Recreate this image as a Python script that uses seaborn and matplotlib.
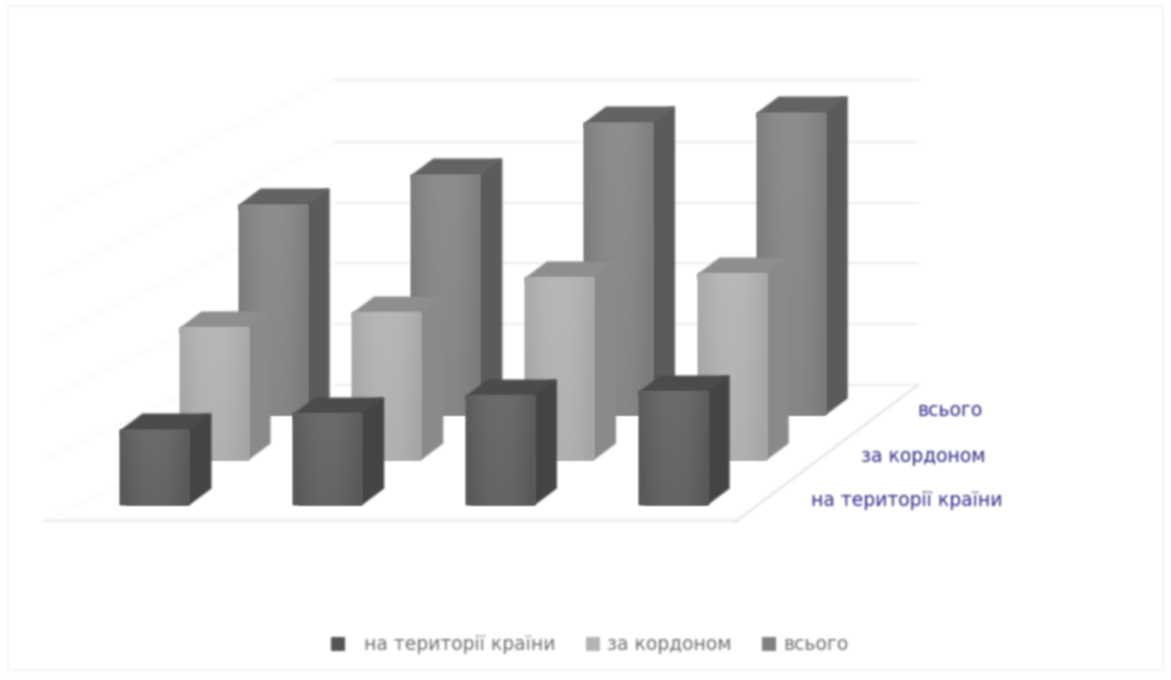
import numpy as np
import pandas as pd
import matplotlib
matplotlib.use("Agg")
import matplotlib.pyplot as plt
from matplotlib.patches import Polygon, Patch, Rectangle
from matplotlib.transforms import Affine2D
from matplotlib.colors import to_rgb
import seaborn as sns

# ---- data (no category or value labels are shown in the source; values read in chart units)
categories = ["1", "2", "3", "4"]
series_names = ["на території країни", "за кордоном", "всього"]
domestic = [75, 91, 109, 113]
abroad = [132, 147, 182, 186]
total = [210, 240, 292, 302]
grid_levels = [0, 61, 122, 182, 243, 305]

W, H = 1171, 680
sns.set_theme(style="white")
plt.rcParams["font.family"] = ["DejaVu Sans"]

fig = plt.figure(figsize=(W / 100, H / 100), dpi=100, facecolor="white")
ax = fig.add_axes([0, 0, 1, 1])
ax.set_facecolor("none")
px = Affine2D().scale(1 / W, -1 / H).translate(0, 1) + fig.transFigure


def _blur(a, k):
    a = np.apply_along_axis(lambda v: np.convolve(v, k, mode="same"), 0, a)
    return np.apply_along_axis(lambda v: np.convolve(v, k, mode="same"), 1, a)


def soften(img, dpi):
    pad = 4
    k = np.array([1, 3, 4, 3, 1], float)
    k /= k.sum()
    img = np.pad(img, ((pad, pad), (pad, pad), (0, 0)))
    alpha = _blur(img[..., 3], k)
    out = np.zeros_like(img)
    for c in range(3):
        out[..., c] = _blur(img[..., c] * img[..., 3], k) / np.maximum(alpha, 1e-4)
    out[..., 3] = alpha
    return np.clip(out, 0, 1), -pad, -pad


# pixel scale of the chart
unit_x = 172.7
x_left, y_base = 155, 505
ax.set_xlim(-x_left / unit_x, (W - x_left) / unit_x)
ylim = (-(H - y_base), y_base)

# ---- walls and floor
back_left, back_right, back_floor = 335, 918, 385
wall_left = 45
front_floor = 520
front_right = 735
for lev in grid_levels:
    yy = back_floor - lev
    ax.plot([back_left, back_right], [yy, yy], transform=px, color="#ededed",
            lw=1.4, zorder=0, agg_filter=soften)
    ax.plot([wall_left, back_left], [yy + front_floor - back_floor, yy], transform=px,
            color="#fbfbfb", lw=1.4, zorder=0, agg_filter=soften)
ax.plot([wall_left, front_right], [front_floor, front_floor], transform=px,
        color="#eeeeee", lw=2, zorder=0, agg_filter=soften)
ax.plot([front_right, back_right], [front_floor + 2, back_floor], transform=px,
        color="#e2e2e2", lw=1.4, zorder=0, agg_filter=soften)
ax.add_patch(Rectangle((8, 6), 1155, 664, transform=px, fill=False, ec="#f3f3f3",
                       lw=1.2, zorder=0, agg_filter=soften))

# ---- bars: seaborn builds the front faces, each series then moves back by its depth
values = [domestic, abroad, total]
shift_x = [0.0, 0.342, 0.684]
shift_y = [0, 45, 90]
face_mid = ["#6c6c6c", "#b8b8b8", "#8e8e8e"]
face_edge = ["#595959", "#a6a6a6", "#7b7b7b"]
side_col = ["#454545", "#8b8b8b", "#5b5b5b"]
top_col = ["#4b4b4b", "#8e8e8e", "#646464"]
depth_x, depth_y = 22 / unit_x, 16.5
bar_width = 69 / unit_x

for i in [2, 1, 0]:
    z = 3 - i + 1
    df = pd.DataFrame({"category": categories, "value": values[i]})
    n_before = len(ax.containers)
    sns.barplot(data=df, x="category", y="value", color=face_mid[i], saturation=1,
                width=bar_width, linewidth=0, ax=ax, zorder=z + 0.3, errorbar=None)
    for bar in ax.containers[n_before]:
        bar.set_x(bar.get_x() + shift_x[i])
        bar.set_y(shift_y[i])
        bar.set_agg_filter(soften)
        x0, x1 = bar.get_x(), bar.get_x() + bar.get_width()
        y0, y1 = bar.get_y(), bar.get_y() + bar.get_height()
        ax.add_patch(Polygon([(x0 + 0.03, y0), (x1, y0), (x1 + depth_x, y0 + depth_y),
                              (x1 + depth_x, y1 + depth_y), (x0 + 0.03, y1)],
                             fc=side_col[i], ec="none", zorder=z + 0.1, agg_filter=soften))
        ax.add_patch(Polygon([(x0, y1 - 5), (x0, y1), (x0 + depth_x, y1 + depth_y),
                              (x1 + depth_x, y1 + depth_y), (x1, y1), (x1, y1 - 5)],
                             fc=top_col[i], ec="none", zorder=z + 0.2, agg_filter=soften))
        t = np.abs(np.linspace(-1, 1, 32))[None, :, None]
        v = np.linspace(1, 0, 32)[:, None, None] * 0.35 + 0.65
        mix = np.clip(t ** 2 * 0.8 + (1 - v), 0, 1)
        grad = np.array(to_rgb(face_mid[i]))[None, None, :] * (1 - mix) + \
            np.array(to_rgb(face_edge[i]))[None, None, :] * mix
        ax.imshow(grad, extent=(x0, x1, y0, y1), aspect="auto", zorder=z + 0.35,
                  interpolation="bilinear", agg_filter=soften)

ax.set_xlim(-x_left / unit_x, (W - x_left) / unit_x)
ax.set_ylim(*ylim)
ax.set_axis_off()

# ---- depth-axis labels
label_pos = [(907, 501), (923, 456), (950, 410)]
for name, (lx, ly) in zip(series_names, label_pos):
    ax.text(lx, ly, name, transform=px, ha="center", va="center", fontsize=13.5,
            color="#2e2a86", zorder=10, agg_filter=soften)

# ---- legend
handles = [Patch(fc=c, ec="none") for c in ["#555555", "#b4b4b4", "#808080"]]
labels = ["  " + series_names[0]] + series_names[1:]
leg = ax.legend(handles, labels, loc="center", bbox_to_anchor=(589.5, 645),
                bbox_transform=px, ncol=3, frameon=False, fontsize=13.5,
                labelcolor="#6f6f6f", handlelength=0.74, handleheight=0.74,
                handletextpad=0.37, columnspacing=1.64, borderpad=0)
for t in leg.get_texts():
    t.set_agg_filter(soften)
for h in leg.legend_handles:
    h.set_agg_filter(soften)

fig.savefig("out.png", dpi=100, facecolor="white")
